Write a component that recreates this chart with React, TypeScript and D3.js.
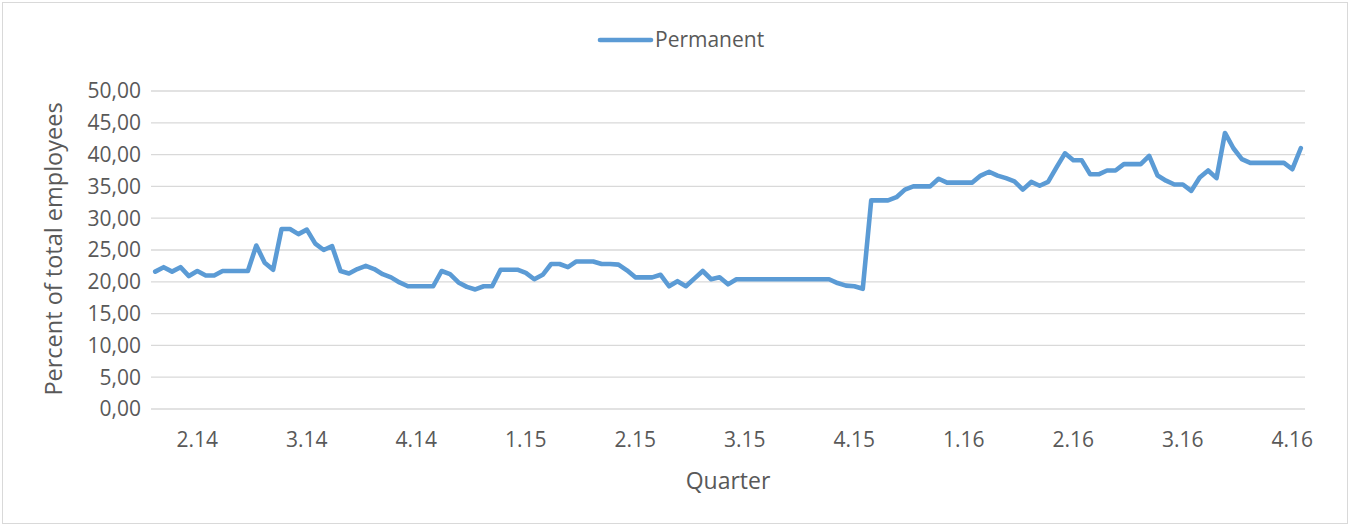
import React from "react";
import { scaleBand, scaleLinear, line, range } from "d3";

// weekly share of permanent employees
const permanent = [
  21.6, 22.3, 21.6, 22.3, 20.9, 21.7, 21.0, 21.0, 21.7, 21.7, 21.7, 21.7, 25.7,
  23.0, 21.9, 28.3, 28.3, 27.5, 28.2, 26.0, 25.0, 25.6, 21.7, 21.3, 22.0, 22.5,
  22.0, 21.2, 20.7, 19.9, 19.3, 19.3, 19.3, 19.3, 21.7, 21.2, 19.9, 19.2, 18.8,
  19.3, 19.3, 21.9, 21.9, 21.9, 21.4, 20.4, 21.1, 22.8, 22.8, 22.3, 23.2, 23.2,
  23.2, 22.8, 22.8, 22.7, 21.8, 20.7, 20.7, 20.7, 21.1, 19.3, 20.1, 19.3, 20.5,
  21.7, 20.4, 20.7, 19.6, 20.4, 20.4, 20.4, 20.4, 20.4, 20.4, 20.4, 20.4, 20.4,
  20.4, 20.4, 20.4, 19.8, 19.4, 19.3, 18.9, 32.8, 32.8, 32.8, 33.3, 34.5, 35.0,
  35.0, 35.0, 36.2, 35.6, 35.6, 35.6, 35.6, 36.7, 37.3, 36.7, 36.3, 35.8, 34.5,
  35.7, 35.1, 35.7, 38.0, 40.2, 39.1, 39.1, 36.9, 36.9, 37.5, 37.5, 38.5, 38.5,
  38.5, 39.8, 36.7, 35.9, 35.3, 35.3, 34.3, 36.4, 37.5, 36.3, 43.4, 41.0, 39.3,
  38.7, 38.7, 38.7, 38.7, 38.7, 37.7, 41.0,
];
const quarterLabels = ["2.14", "3.14", "4.14", "1.15", "2.15", "3.15", "4.15", "1.16", "2.16", "3.16", "4.16"];
const firstLabelIndex = 5;
const labelEvery = 13;
const yTicks = [0, 5, 10, 15, 20, 25, 30, 35, 40, 45, 50];

const W = 1350;
const H = 526;
const left = 151;
const right = 1305;
const top = 91;
const bottom = 409;
const font = "'Open Sans', sans-serif";
const textColor = "#595959";

const x = scaleBand<number>()
  .domain(range(permanent.length))
  .range([left, right])
  .padding(0);
const cx = (i: number) => (x(i) as number) + x.bandwidth() / 2;
const y = scaleLinear().domain([0, 50]).range([bottom, top]);

const path = line<number>()
  .x((_, i) => cx(i))
  .y((d) => y(d))(permanent);

export default function App() {
  return (
    <svg
      width={W}
      height={H}
      style={{ position: "absolute", left: 0, top: 0, background: "#fff" }}
      fontFamily={font}
    >
      <rect x={2.5} y={2.5} width={W - 5} height={H - 5} fill="#fff" stroke="#D9D9D9" />
      {yTicks.map((t) => (
        <g key={t}>
          <line x1={left} x2={right} y1={y(t)} y2={y(t)} stroke="#D9D9D9" strokeWidth={1.3} />
          <text x={141} y={y(t)} dy="0.35em" textAnchor="end" fontSize={21} fill={textColor}>
            {t.toFixed(2).replace(".", ",")}
          </text>
        </g>
      ))}
      {quarterLabels.map((q, k) => (
        <text
          key={q}
          x={cx(firstLabelIndex + k * labelEvery)}
          y={440}
          dy="0.35em"
          textAnchor="middle"
          fontSize={21}
          fill={textColor}
        >
          {q}
        </text>
      ))}
      <path d={path || ""} fill="none" stroke="#5B9BD5" strokeWidth={4.6} strokeLinejoin="round" strokeLinecap="round" />
      <text x={(left + right) / 2} y={481} dy="0.35em" textAnchor="middle" fontSize={23} fill={textColor}>
        Quarter
      </text>
      <text
        transform={`translate(62,249) rotate(-90)`}
        textAnchor="middle"
        fontSize={23.5}
        fill={textColor}
      >
        Percent of total employees
      </text>
      <line x1={600} x2={651} y1={40} y2={40} stroke="#5B9BD5" strokeWidth={4.6} strokeLinecap="round" />
      <text x={655} y={40} dy="0.35em" fontSize={21} fill={textColor}>
        Permanent
      </text>
    </svg>
  );
}
